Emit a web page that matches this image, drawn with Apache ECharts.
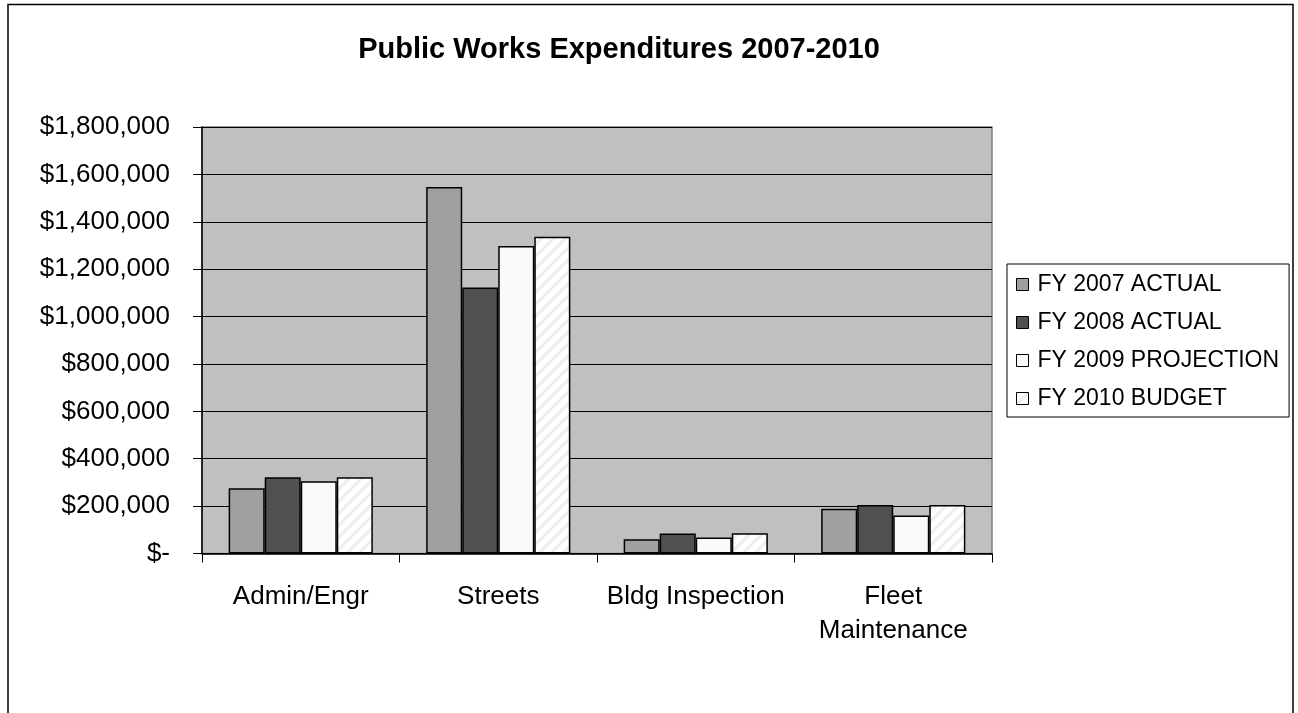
<!DOCTYPE html>
<html>
<head>
<meta charset="utf-8">
<title>Public Works Expenditures 2007-2010</title>
<script src="https://cdn.jsdelivr.net/npm/echarts@6/dist/echarts.min.js"></script>
<style>
  html, body { margin: 0; padding: 0; background: #ffffff; }
  #chart { width: 1298px; height: 713px; }
</style>
</head>
<body>
<div id="chart"></div>
<script>
// Departments along the x axis
const categories = ['Admin/Engr', 'Streets', 'Bldg Inspection', 'Fleet\nMaintenance'];

// Expenditures per fiscal year (dollars)
const fy2007Actual = [275000, 1547000, 60000, 189000];
const fy2008Actual = [322000, 1123000, 84000, 205000];
const fy2009Projection = [305000, 1298000, 67000, 160000];
const fy2010Budget = [322000, 1337000, 85000, 205000];

const seriesNames = ['FY 2007 ACTUAL', 'FY 2008 ACTUAL', 'FY 2009 PROJECTION', 'FY 2010 BUDGET'];

// Y axis scale
const yMin = 0;
const yMax = 1800000;
const yStep = 200000;

const FONT = '"Liberation Sans", Arial, sans-serif';

// Light diagonal hatching used for the budget bars
function hatchPattern() {
  const c = document.createElement('canvas');
  c.width = 12; c.height = 12;
  const g = c.getContext('2d');
  g.fillStyle = '#ffffff';
  g.fillRect(0, 0, 12, 12);
  g.strokeStyle = '#eeeeee';
  g.lineWidth = 3;
  g.beginPath();
  g.moveTo(-3, 15); g.lineTo(15, -3);
  g.moveTo(-9, 9); g.lineTo(9, -9);
  g.moveTo(3, 21); g.lineTo(21, 3);
  g.stroke();
  return { image: c, repeat: 'repeat' };
}

const fills = ['#a0a0a0', '#505050', '#fafafa', hatchPattern()];
const values = [fy2007Actual, fy2008Actual, fy2009Projection, fy2010Budget];

function money(v) {
  if (v === 0) return '$-';
  return '$' + v.toLocaleString('en-US');
}

const chart = echarts.init(document.getElementById('chart'), null, { renderer: 'canvas' });

chart.setOption({
  animation: false,
  backgroundColor: '#ffffff',
  textStyle: { fontFamily: FONT },
  title: {
    text: 'Public Works Expenditures 2007-2010',
    left: 614,
    textAlign: 'center',
    top: 30,
    textStyle: { fontFamily: FONT, fontSize: 29, fontWeight: 'bold', color: '#000000' }
  },
  graphic: [{
    type: 'rect',
    shape: { x: 8, y: 4.5, width: 1285, height: 800 },
    style: { fill: 'none', stroke: '#000000', lineWidth: 1.5 },
    silent: true,
    z: 100
  }],
  legend: {
    orient: 'vertical',
    left: 1007,
    top: 264,
    width: 279,
    padding: [9, 10, 7, 9],
    itemGap: 15,
    itemWidth: 12,
    itemHeight: 12,
    borderColor: '#000000',
    borderWidth: 1,
    backgroundColor: '#ffffff',
    icon: 'rect',
    itemStyle: { borderColor: '#000000', borderWidth: 1 },
    textStyle: { fontFamily: FONT, fontSize: 23, color: '#000000', padding: [0, 0, 0, 4] },
    data: seriesNames
  },
  grid: {
    left: 202,
    right: 306,
    top: 127,
    bottom: 159.5,
    show: true,
    backgroundColor: '#c0c0c0',
    borderColor: '#808080',
    borderWidth: 1.5
  },
  xAxis: {
    type: 'category',
    data: categories,
    axisLine: { show: true, lineStyle: { color: '#000000', width: 1.5 } },
    axisTick: { show: true, alignWithLabel: false, length: 9, lineStyle: { color: '#000000' } },
    axisLabel: {
      fontFamily: FONT, fontSize: 26, color: '#000000', margin: 26,
      lineHeight: 34, interval: 0
    },
    splitLine: { show: false }
  },
  yAxis: {
    type: 'value',
    min: yMin,
    max: yMax,
    interval: yStep,
    axisLine: { show: true, lineStyle: { color: '#000000', width: 1.5 } },
    axisTick: { show: true, length: 9, lineStyle: { color: '#000000' } },
    axisLabel: {
      fontFamily: FONT, fontSize: 26, color: '#000000', margin: 32,
      formatter: money
    },
    splitLine: { show: true, lineStyle: { color: '#000000', width: 1 } }
  },
  series: seriesNames.map((name, i) => ({
    name: name,
    type: 'bar',
    data: values[i],
    barGap: '0%',
    barCategoryGap: '27%',
    itemStyle: { color: fills[i], borderColor: '#000000', borderWidth: 1.5 }
  }))
});
</script>
</body>
</html>
